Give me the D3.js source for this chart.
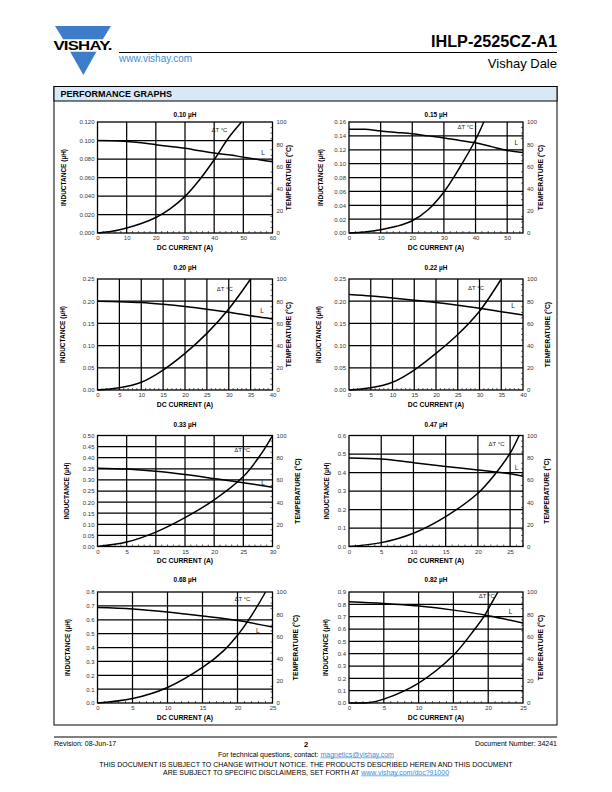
<!DOCTYPE html>
<html><head><meta charset="utf-8">
<script src="https://cdn.jsdelivr.net/npm/d3@7"></script>
<style>
html,body{margin:0;padding:0;background:#fff;}
svg{display:block;font-family:"Liberation Sans",Arial,Helvetica,sans-serif;}
</style></head>
<body>
<svg id="page" width="612" height="792"></svg>
<script>
// ---------- DATA ----------
const chartTitles = ["0.10 µH","0.15 µH","0.20 µH","0.22 µH","0.33 µH","0.47 µH","0.68 µH","0.82 µH"];
const currentMax  = [60, 55, 40, 40, 30, 27, 25, 25];
const currentStep = [10, 10, 5, 5, 5, 5, 5, 5];
const currentTickMax = [60, 50, 40, 40, 30, 25, 25, 25];
const inductMax   = [0.12, 0.16, 0.25, 0.25, 0.50, 0.6, 0.8, 0.9];
const inductStep  = [0.02, 0.02, 0.05, 0.05, 0.05, 0.1, 0.1, 0.1];
const inductDigits = [3, 2, 2, 2, 2, 1, 1, 1];
const tempTicks = [0, 20, 40, 60, 80, 100];

// inductance curves [current A, µH]
const L010 = [[0,0.100],[5,0.0998],[10,0.099],[15,0.0975],[20,0.0955],[25,0.0935],[30,0.0915],[35,0.089],[40,0.0865],[45,0.0845],[50,0.082],[55,0.0795],[60,0.077]];
const L015 = [[0,0.1495],[5,0.1495],[10,0.147],[15,0.145],[20,0.143],[25,0.140],[30,0.137],[35,0.1335],[40,0.130],[45,0.1245],[50,0.119],[55,0.116]];
const L020 = [[0,0.200],[5,0.199],[10,0.197],[15,0.193],[20,0.188],[25,0.182],[30,0.175],[35,0.167],[40,0.160]];
const L022 = [[0,0.215],[5,0.2115],[10,0.207],[15,0.202],[20,0.197],[25,0.191],[30,0.184],[35,0.1765],[40,0.169]];
const L033 = [[0,0.353],[5,0.349],[10,0.339],[15,0.324],[20,0.306],[25,0.287],[30,0.267]];
const L047 = [[0,0.479],[5,0.473],[10,0.453],[15,0.433],[20,0.414],[25,0.393],[27,0.380]];
const L068 = [[0,0.688],[5,0.678],[10,0.656],[15,0.627],[20,0.594],[25,0.548]];
const L082 = [[0,0.821],[5,0.807],[10,0.786],[15,0.753],[20,0.708],[25,0.648]];

// temperature rise curves [current A, °C]
const T010 = [[0,0],[5,1.5],[10,4.5],[15,8.5],[20,14],[25,22],[30,33],[35,48],[40,66],[45,86],[49.4,100]];
const T015 = [[0,0],[5,1],[10,3],[15,6],[20,11],[25,21],[30,37],[35,59],[40,84],[42.6,100]];
const T020 = [[0,0],[5,2],[10,7],[15,18],[20,33],[25,51],[30,73],[35,100]];
const T022 = [[0,0],[5,2],[10,7],[15,18],[20,33],[25,50],[30,71],[35,100]];
const T033 = [[0,0],[5,4],[10,13],[15,26],[20,42],[25,63],[28,83],[30,100]];
const T047 = [[0,0],[5,3.5],[10,12],[15,27],[20,48],[22.5,64],[25,84],[26.4,100]];
const T068 = [[0,0],[5,4],[10,14],[15,32],[18,47],[20,61],[21.5,74],[23,89],[24,100]];
const T082 = [[0,0],[3,0.5],[5,3.5],[10,18],[15,43],[18,66],[19.5,79],[20.3,88],[21.4,100]];

const inductSeries = [L010, L015, L020, L022, L033, L047, L068, L082];
const tempSeries   = [T010, T015, T020, T022, T033, T047, T068, T082];

// curve label anchors (current, value on own axis)
const dtLabelAt = [[41.8,93],[36.8,95.5],[29.1,90.7],[29.2,91.6],[24.8,87],[22.9,92.5],[20.7,94],[19.8,96]];
const lLabelAt  = [[56.8,0.087],[52.9,0.130],[37.6,0.178],[37.7,0.189],[28.4,0.287],[26,0.428],[22.9,0.523],[23.2,0.739]];

// ---------- LAYOUT ----------
const colX = [[97.5, 272.5], [349, 523]];
const rowTop = [122, 279, 435.5, 592];
const plotH = 111;
const titleGap = [5.5, 9.5, 9, 10];
const leftLabelOff  = [-34, -28, -34.5, -30, -31, -22, -30, -23];
const rightLabelOff = [16.6, 18, 16.6, 25, 25, 24, 23.3, 17.4];

const svg = d3.select("#page");
const blue = "#3b8fd4";

// ---------- HEADER ----------
const logo = svg.append("g");
logo.append("path").attr("d","M55,26 L111,26 L102.8,39.3 L63.2,39.3 Z").attr("fill","#3d7cc9");
logo.append("path").attr("d","M70.2,51.7 L96.4,51.7 L83.3,75 Z").attr("fill","#3d7cc9");
logo.append("text").attr("x",82.5).attr("y",50).attr("text-anchor","middle")
  .attr("font-size",12.5).attr("font-weight","bold").attr("letter-spacing",-0.6)
  .attr("textLength",58).attr("lengthAdjust","spacingAndGlyphs").text("VISHAY.");
svg.append("text").attr("x",119).attr("y",62).attr("font-size",10).attr("fill",blue).text("www.vishay.com");
svg.append("line").attr("x1",119).attr("x2",557).attr("y1",52.5).attr("y2",52.5).attr("stroke","#000").attr("stroke-width",1);
svg.append("text").attr("x",557).attr("y",47).attr("text-anchor","end").attr("font-size",16).attr("font-weight","bold")
  .attr("textLength",126).attr("lengthAdjust","spacingAndGlyphs").text("IHLP-2525CZ-A1");
svg.append("text").attr("x",557).attr("y",68).attr("text-anchor","end").attr("font-size",13).text("Vishay Dale");

// ---------- PANEL ----------
svg.append("rect").attr("x",54).attr("y",86.5).attr("width",503).attr("height",638.5)
  .attr("fill","none").attr("stroke","#000").attr("stroke-width",1);
svg.append("rect").attr("x",54).attr("y",86.5).attr("width",503).attr("height",14.5)
  .attr("fill","#d8e8f6").attr("stroke","#000").attr("stroke-width",1);
svg.append("text").attr("x",60.5).attr("y",97).attr("font-size",9).attr("font-weight","bold").text("PERFORMANCE GRAPHS");

// ---------- CHARTS ----------
chartTitles.forEach((title, i) => {
  const col = i % 2, row = Math.floor(i / 2);
  const x0 = colX[col][0], x1 = colX[col][1];
  const top = rowTop[row], bot = top + plotH;
  const x = d3.scaleLinear().domain([0, currentMax[i]]).range([x0, x1]);
  const yL = d3.scaleLinear().domain([0, inductMax[i]]).range([bot, top]);
  const yT = d3.scaleLinear().domain([0, 100]).range([bot, top]);
  const g = svg.append("g");

  const xTicks = d3.range(0, currentTickMax[i] + 1e-9, currentStep[i]);
  const lTicks = d3.range(0, inductMax[i] + 1e-9, inductStep[i]);

  // grid
  g.selectAll(".vg").data(xTicks.filter(v => v > 0 && v < currentMax[i])).join("line")
    .attr("x1", d => x(d)).attr("x2", d => x(d)).attr("y1", top).attr("y2", bot)
    .attr("stroke","#000").attr("stroke-width",1.25);
  g.selectAll(".hg").data(lTicks.filter(v => v > 1e-9 && v < inductMax[i] - 1e-9)).join("line")
    .attr("x1", x0).attr("x2", x1).attr("y1", d => yL(d)).attr("y2", d => yL(d))
    .attr("stroke","#000").attr("stroke-width",1.25);

  // minor ticks
  const minorX = d3.range(0, currentMax[i] + 1e-9, currentStep[i] / 5).filter(v => Math.abs(v / currentStep[i] - Math.round(v / currentStep[i])) > 1e-6);
  g.selectAll(".mx").data(minorX).join("line")
    .attr("x1", d => x(d)).attr("x2", d => x(d)).attr("y1", bot).attr("y2", bot - 2)
    .attr("stroke","#000").attr("stroke-width",0.6);
  g.selectAll(".mt").data(d3.range(5, 100, 5).filter(v => v % 20 !== 0)).join("line")
    .attr("x1", x1).attr("x2", x1 - 2).attr("y1", d => yT(d)).attr("y2", d => yT(d))
    .attr("stroke","#000").attr("stroke-width",0.6);

  // frame
  g.append("rect").attr("x", x0).attr("y", top).attr("width", x1 - x0).attr("height", plotH)
    .attr("fill","none").attr("stroke","#000").attr("stroke-width",1.3);

  // axes labels (ticks)
  const xAxis = d3.axisBottom(x).tickValues(xTicks).tickSize(0).tickPadding(3).tickFormat(d3.format("d"));
  const ga = g.append("g").attr("transform", `translate(0,${bot})`).call(xAxis);
  const yAxisL = d3.axisLeft(yL).tickValues(lTicks).tickSize(0).tickPadding(3).tickFormat(d3.format("." + inductDigits[i] + "f"));
  const gl = g.append("g").attr("transform", `translate(${x0},0)`).call(yAxisL);
  const yAxisR = d3.axisRight(yT).tickValues(tempTicks).tickSize(0).tickPadding(4).tickFormat(d3.format("d"));
  const gr = g.append("g").attr("transform", `translate(${x1},0)`).call(yAxisR);
  [ga, gl, gr].forEach(a => {
    a.select(".domain").remove();
    a.selectAll("text").attr("font-size", 6).attr("fill", "#333").attr("font-family", '"Liberation Sans",Arial,sans-serif');
  });

  // curves
  const clipId = "clip" + i;
  svg.append("clipPath").attr("id", clipId).append("rect")
    .attr("x", x0).attr("y", top - 1).attr("width", x1 - x0).attr("height", plotH + 2);
  const lineL = d3.line().x(d => x(d[0])).y(d => yL(d[1])).curve(d3.curveCatmullRom.alpha(0.5));
  const lineT = d3.line().x(d => x(d[0])).y(d => yT(d[1])).curve(d3.curveCatmullRom.alpha(0.5));
  g.append("path").attr("d", lineL(inductSeries[i])).attr("fill","none").attr("stroke","#000")
    .attr("stroke-width",1.5).attr("clip-path", `url(#${clipId})`);
  g.append("path").attr("d", lineT(tempSeries[i])).attr("fill","none").attr("stroke","#000")
    .attr("stroke-width",1.5).attr("clip-path", `url(#${clipId})`);

  // curve labels
  g.append("text").attr("x", x(dtLabelAt[i][0])).attr("y", yT(dtLabelAt[i][1]) + 2)
    .attr("text-anchor","middle").attr("font-size",6).attr("fill","#222").text("ΔT °C");
  g.append("text").attr("x", x(lLabelAt[i][0])).attr("y", yL(lLabelAt[i][1]) + 2.2)
    .attr("text-anchor","middle").attr("font-size",6.5).attr("fill","#222").text("L");

  // titles
  g.append("text").attr("x", (x0 + x1) / 2).attr("y", top - titleGap[row])
    .attr("text-anchor","middle").attr("font-size",6.5).attr("font-weight","bold").text(title);
  g.append("text").attr("x", (x0 + x1) / 2).attr("y", bot + 16.5)
    .attr("text-anchor","middle").attr("font-size",6.8).attr("font-weight","bold").text("DC CURRENT (A)");
  const lx = x0 + leftLabelOff[i], ly = (top + bot) / 2;
  g.append("text").attr("transform", `translate(${lx},${ly}) rotate(-90)`).attr("dy","0.35em")
    .attr("text-anchor","middle").attr("font-size",6.5).attr("font-weight","bold").text("INDUCTANCE (µH)");
  const rx = x1 + rightLabelOff[i];
  g.append("text").attr("transform", `translate(${rx},${ly}) rotate(-90)`).attr("dy","0.35em")
    .attr("text-anchor","middle").attr("font-size",6.8).attr("font-weight","bold").text("TEMPERATURE (°C)");
});

// ---------- FOOTER ----------
svg.append("line").attr("x1",54).attr("x2",557).attr("y1",737).attr("y2",737).attr("stroke","#000").attr("stroke-width",1);
svg.append("text").attr("x",54).attr("y",745.5).attr("font-size",7).text("Revision: 08-Jun-17");
svg.append("text").attr("x",306).attr("y",746.5).attr("text-anchor","middle").attr("font-size",7.5).attr("font-weight","bold").text("2");
svg.append("text").attr("x",557).attr("y",745.5).attr("text-anchor","end").attr("font-size",7).text("Document Number: 34241");
const t1 = svg.append("text").attr("x",306).attr("y",756.5).attr("text-anchor","middle").attr("font-size",7);
t1.append("tspan").text("For technical questions, contact: ");
t1.append("tspan").attr("fill",blue).attr("text-decoration","underline").text("magnetics@vishay.com");
svg.append("text").attr("x",306).attr("y",766.5).attr("text-anchor","middle").attr("font-size",7)
  .text("THIS DOCUMENT IS SUBJECT TO CHANGE WITHOUT NOTICE. THE PRODUCTS DESCRIBED HEREIN AND THIS DOCUMENT");
const t2 = svg.append("text").attr("x",306).attr("y",774.5).attr("text-anchor","middle").attr("font-size",7);
t2.append("tspan").text("ARE SUBJECT TO SPECIFIC DISCLAIMERS, SET FORTH AT ");
t2.append("tspan").attr("fill",blue).attr("text-decoration","underline").text("www.vishay.com/doc?91000");
</script>
</body></html>
